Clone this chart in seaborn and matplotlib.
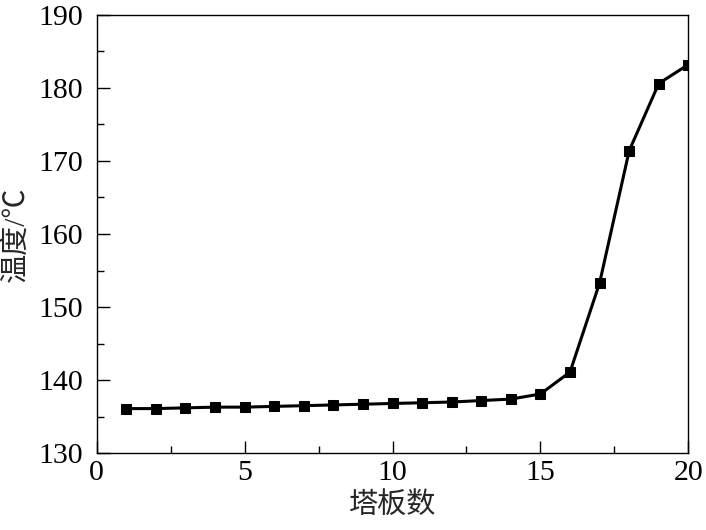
import matplotlib
matplotlib.use("Agg")
import matplotlib.pyplot as plt
from matplotlib.ticker import MultipleLocator
import seaborn as sns
import pandas as pd

plates = list(range(1, 21))
temps = [136.1, 136.1, 136.2, 136.3, 136.3, 136.4, 136.5, 136.6, 136.7, 136.8,
         136.9, 137.0, 137.2, 137.4, 138.1, 141.1, 153.3, 171.4, 180.6, 183.2]

sns.set_style("ticks")
plt.rcParams["font.family"] = ["Liberation Serif", "Noto Sans CJK SC", "DejaVu Sans"]

df = pd.DataFrame({"plate": plates, "temp": temps})

fig = plt.figure(figsize=(7.06, 5.30), dpi=100)
ax = fig.add_axes([0.137, 0.145, 0.838, 0.827])
sns.lineplot(data=df, x="plate", y="temp", ax=ax, color="black",
             linewidth=2.2, marker="s", markersize=7.5, markeredgecolor="black")

ax.set_xlim(0, 20)
ax.set_ylim(130, 190)
ax.xaxis.set_major_locator(MultipleLocator(5))
ax.xaxis.set_minor_locator(MultipleLocator(2.5))
ax.yaxis.set_major_locator(MultipleLocator(10))
ax.yaxis.set_minor_locator(MultipleLocator(5))
ax.tick_params(which="both", direction="in", top=False, right=False,
               labelsize=21.5, width=1, colors="black")
ax.tick_params(which="major", length=9)
ax.tick_params(axis="y", which="major", pad=10)
ax.tick_params(axis="x", which="major", pad=5)
ax.tick_params(which="minor", length=5)
for s in ax.spines.values():
    s.set_linewidth(1)
    s.set_color("black")

ax.set_xlabel("塔板数", fontsize=21, family=["Noto Sans CJK SC"], labelpad=3)
ax.set_ylabel("温度/℃", fontsize=21,
              family=["Liberation Serif", "Noto Sans CJK SC"], labelpad=6)

fig.savefig("out.png", dpi=100)
